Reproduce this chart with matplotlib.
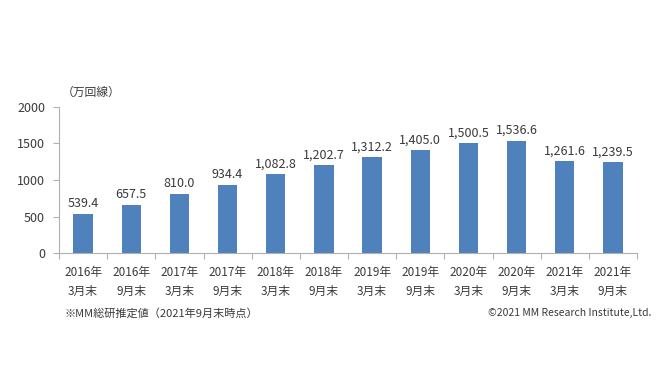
import matplotlib.pyplot as plt
import numpy as np

plt.rcParams['font.family'] = ['Noto Sans CJK JP', 'DejaVu Sans']

periods = ['2016年\n3月末', '2016年\n9月末', '2017年\n3月末', '2017年\n9月末',
           '2018年\n3月末', '2018年\n9月末', '2019年\n3月末', '2019年\n9月末',
           '2020年\n3月末', '2020年\n9月末', '2021年\n3月末', '2021年\n9月末']
lines = [539.4, 657.5, 810.0, 934.4, 1082.8, 1202.7,
         1312.2, 1405.0, 1500.5, 1536.6, 1261.6, 1239.5]
yticks = [0, 500, 1000, 1500, 2000]

text_color = '#3a3a3a'
axis_color = '#b0b0b0'

fig = plt.figure(figsize=(6.65, 3.74), dpi=100)
ax = fig.add_axes([0.0887, 0.3227, 0.8693, 0.392])

x = np.arange(len(lines))
ax.bar(x, lines, width=0.4, color='#4F81BD', zorder=2)

for xi, v in zip(x, lines):
    ax.text(xi, v + 50, '{:,.1f}'.format(v), ha='center', va='bottom',
            fontsize=9, color=text_color)

ax.set_xlim(-0.5, len(lines) - 0.5)
ax.set_ylim(0, 2000)
ax.set_yticks(yticks)
ax.set_yticklabels([str(t) for t in yticks], fontsize=9, color=text_color)
ax.tick_params(axis='y', length=4, color=axis_color, pad=6)

# category boundaries as major ticks, labels on minor ticks
ax.set_xticks(np.arange(len(lines) + 1) - 0.5)
ax.set_xticklabels([])
ax.tick_params(axis='x', which='major', length=4, color=axis_color)
ax.set_xticks(x, minor=True)
ax.set_xticklabels(periods, minor=True, fontsize=8.5, color=text_color,
                   linespacing=1.65)
ax.tick_params(axis='x', which='minor', length=0, pad=9)

for side in ['top', 'right']:
    ax.spines[side].set_visible(False)
for side in ['left', 'bottom']:
    ax.spines[side].set_color(axis_color)

fig.text(62 / 665, 1 - 92 / 374, '（万回線）', fontsize=8.5, color=text_color,
         ha='left', va='center')
fig.text(64 / 665, 1 - 313 / 374, '※MM総研推定値（2021年9月末時点）', fontsize=8,
         color=text_color, ha='left', va='center')
fig.text(651 / 665, 1 - 313 / 374, '©2021 MM Research Institute,Ltd.',
         fontsize=7.5, color=text_color, ha='right', va='center')

fig.savefig('out.png', dpi=100)
